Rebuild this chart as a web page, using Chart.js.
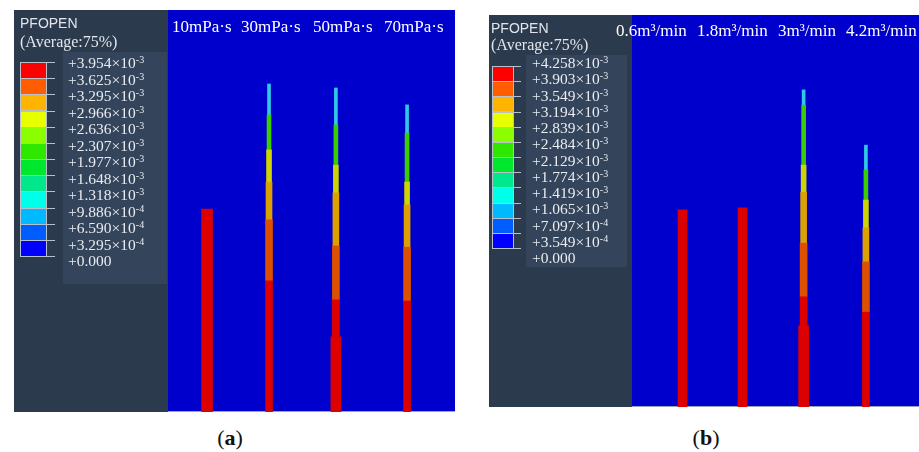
<!DOCTYPE html>
<html>
<head>
<meta charset="utf-8">
<script src="https://cdn.jsdelivr.net/npm/chart.js@4.4.1/dist/chart.umd.min.js"></script>
<style>
  body { margin: 0; width: 919px; height: 452px; position: relative; overflow: hidden; background: #fff; font-family: "Liberation Serif", "Times New Roman", serif; }
  .panel { position: absolute; background: #2c3a4e; }
  .panel canvas { position: absolute; left: 0; top: 0; }
  .pf { position: absolute; font-family: "Liberation Sans", Arial, sans-serif; font-size: 14px; color: #e2e6ec; line-height: 16px; }
  .avg { position: absolute; font-size: 16px; color: #e2e6ec; line-height: 18px; white-space: nowrap; }
  .labelbox { position: absolute; background: #34445a; }
  .swatch { position: absolute; box-sizing: border-box; border: 1px solid #b8c0cc; }
  .tick { position: absolute; height: 1px; background: #b8c0cc; }
  .lab { position: absolute; font-family: "Liberation Serif", serif; font-size: 15.5px; color: #e8ecf2; line-height: 16px; white-space: nowrap; }
  .lab sup { font-size: 10px; vertical-align: 5px; line-height: 0; }
  .title { position: absolute; font-size: 17px; color: #fff; white-space: nowrap; line-height: 18px; }
  .cap { position: absolute; font-size: 22px; width: 60px; text-align: center; line-height: 24px; color: #111; }
</style>
</head>
<body>
<div class="panel" id="panelA" style="left:14px;top:10px;width:441px;height:402px;">
  <canvas id="chartA" width="441" height="402"></canvas>
</div>
<div class="panel" id="panelB" style="left:489px;top:15px;width:430px;height:392px;">
  <canvas id="chartB" width="430" height="392"></canvas>
</div>
<div class="cap" style="left:200px;top:426px;">(<b>a</b>)</div>
<div class="cap" style="left:676px;top:426px;">(<b>b</b>)</div>

<script>
// ---- data ----
// legend colour scale (top = largest opening)
const scaleColors = ["#ff0000", "#ff5d00", "#ffb400", "#e8ff00", "#8bff00", "#2ee800", "#00e82e", "#00e88b", "#00ffe8", "#00b9ff", "#005dff", "#0000ff"];
const viscTicks = [3.954e-3, 3.625e-3, 3.295e-3, 2.966e-3, 2.636e-3, 2.307e-3, 1.977e-3, 1.648e-3, 1.318e-3, 9.886e-4, 6.590e-4, 3.295e-4, 0];
const rateTicks = [4.258e-3, 3.903e-3, 3.549e-3, 3.194e-3, 2.839e-3, 2.484e-3, 2.129e-3, 1.774e-3, 1.419e-3, 1.065e-3, 7.097e-4, 3.549e-4, 0];

// (a) viscosity cases
const viscLabels = ["10mPa·s", "30mPa·s", "50mPa·s", "70mPa·s"];
const viscPos = [13.6, 35.2, 58.5, 83.3];        // fracture location along well, % of domain
const viscRedTop = [50.5, 32.6, 27.9, 27.6];     // fracture height of each opening band, %
const viscOrangeTop = [0, 47.8, 41.3, 41.0];
const viscAmberTop = [0, 57.2, 54.5, 51.5];
const viscYellowTop = [0, 65.2, 61.4, 57.2];
const viscGreenTop = [0, 73.9, 71.4, 69.4];
const viscTipTop = [0, 81.6, 80.6, 76.4];
const viscNearWell = [0, 0, 18.7, 0];

// (b) pump rate cases
const rateLabels = ["0.6m³/min", "1.8m³/min", "3m³/min", "4.2m³/min"];
const ratePos = [17.6, 38.5, 59.8, 81.5];
const rateRedTop = [50.3, 50.8, 28.1, 24.2];
const rateOrangeTop = [0, 0, 41.8, 37.0];
const rateAmberTop = [0, 0, 54.8, 45.7];
const rateYellowTop = [0, 0, 61.7, 52.8];
const rateGreenTop = [0, 0, 77.0, 60.5];
const rateTipTop = [0, 0, 80.9, 66.8];
const rateNearWell = [0, 0, 20.7, 0];

// ---- styles ----
const bandColors = ["#dc0000", "#dc5000", "#dca000", "#cdd400", "#3ccc00", "#30c8e8"];
const bandWidths = [7, 7, 6, 5, 4, 3];

const blueBg = {
  id: "blueBg",
  beforeDraw(chart) {
    const { ctx, chartArea: a } = chart;
    ctx.save();
    ctx.fillStyle = "#0000cd";
    ctx.fillRect(a.left, a.top, a.right - a.left, a.bottom - a.top);
    ctx.fillStyle = "#9aa4b8";
    ctx.fillRect(a.left, a.bottom - 1, a.right - a.left, 1);
    ctx.restore();
  },
};

function buildDatasets(pos, bands, nearWell, fullWidth) {
  const sets = [];
  // fractures that stay fully open (single red band)
  sets.push({
    data: pos.map((x, i) => (bands[1][i] ? null : { x, y: [0, bands[0][i]] })).filter(Boolean),
    backgroundColor: bandColors[0],
    barThickness: fullWidth,
  });
  bands.forEach((tops, k) => {
    sets.push({
      data: pos
        .map((x, i) => {
          if (!bands[1][i]) return null;
          const lo = k === 0 ? 0 : bands[k - 1][i];
          return tops[i] > lo ? { x, y: [lo, tops[i]] } : null;
        })
        .filter(Boolean),
      backgroundColor: bandColors[k],
      barThickness: bandWidths[k],
    });
  });
  sets.push({
    data: pos.map((x, i) => (nearWell[i] ? { x, y: [0, nearWell[i]] } : null)).filter(Boolean),
    backgroundColor: bandColors[0],
    barThickness: 10,
  });
  return sets;
}

function makeChart(id, pos, bands, nearWell, padLeft, fullWidth) {
  return new Chart(document.getElementById(id), {
    type: "bar",
    data: { datasets: buildDatasets(pos, bands, nearWell, fullWidth) },
    options: {
      responsive: false,
      animation: false,
      layout: { padding: { left: padLeft, right: 0, top: 0, bottom: 0 } },
      datasets: { bar: { grouped: false, borderWidth: 0 } },
      plugins: { legend: { display: false }, tooltip: { enabled: false } },
      scales: {
        x: { type: "linear", min: 0, max: 100, offset: false, display: false },
        y: { min: 0, max: 100, display: false },
      },
    },
    plugins: [blueBg],
  });
}

function fmt(v) {
  if (v === 0) return "+0.000";
  const e = Math.floor(Math.log10(v) + 1e-9);
  const m = (v / Math.pow(10, e)).toFixed(3);
  return "+" + m + "×10<sup>" + e + "</sup>";
}

function el(parent, cls, style, html) {
  const d = document.createElement("div");
  d.className = cls;
  Object.assign(d.style, style);
  if (html) d.innerHTML = html;
  parent.appendChild(d);
  return d;
}

// legend / colour scale drawn as HTML
function buildLegend(panelId, ticks, g) {
  const p = document.getElementById(panelId);
  el(p, "labelbox", { left: g.boxX + "px", top: g.boxY + "px", width: g.boxW + "px", height: g.boxH + "px" });
  el(p, "pf", { left: g.pfX + "px", top: g.pfY + "px" }, "PFOPEN");
  el(p, "avg", { left: g.pfX + "px", top: g.avgY + "px" }, "(Average:75%)");
  scaleColors.forEach((c, i) => {
    el(p, "swatch", {
      left: g.barX + "px", top: (g.barY + i * g.step) + "px",
      width: g.barW + "px", height: (g.step + 1) + "px", background: c,
    });
  });
  ticks.forEach((v, i) => {
    el(p, "tick", { left: (g.barX + g.barW - 1) + "px", top: (g.barY + i * g.step) + "px", width: g.tickW + "px" });
    el(p, "lab", { left: g.labX + "px", top: (g.labY + i * g.labStep - 8) + "px" }, fmt(v));
  });
}

function buildTitles(labels, xs, y) {
  labels.forEach((t, i) => el(document.body, "title", { left: xs[i] + "px", top: y + "px" }, t));
}

makeChart("chartA", viscPos,
  [viscRedTop, viscOrangeTop, viscAmberTop, viscYellowTop, viscGreenTop, viscTipTop], viscNearWell, 154, 11);
makeChart("chartB", ratePos,
  [rateRedTop, rateOrangeTop, rateAmberTop, rateYellowTop, rateGreenTop, rateTipTop], rateNearWell, 143, 9);

buildLegend("panelA", viscTicks, {
  boxX: 49, boxY: 42, boxW: 104, boxH: 232,
  pfX: 6, pfY: 5, avgY: 23,
  barX: 6, barY: 52, barW: 27, step: 16.17, tickW: 9,
  labX: 54, labY: 53, labStep: 16.5,
});
buildLegend("panelB", rateTicks, {
  boxX: 37, boxY: 40, boxW: 101, boxH: 212,
  pfX: 2, pfY: 5, avgY: 21,
  barX: 3, barY: 51, barW: 22, step: 15.17, tickW: 8,
  labX: 43, labY: 48, labStep: 16.25,
});

buildTitles(viscLabels, [172, 241, 313, 384], 18);
buildTitles(rateLabels, [616, 697, 778, 846], 22);
</script>
</body>
</html>
